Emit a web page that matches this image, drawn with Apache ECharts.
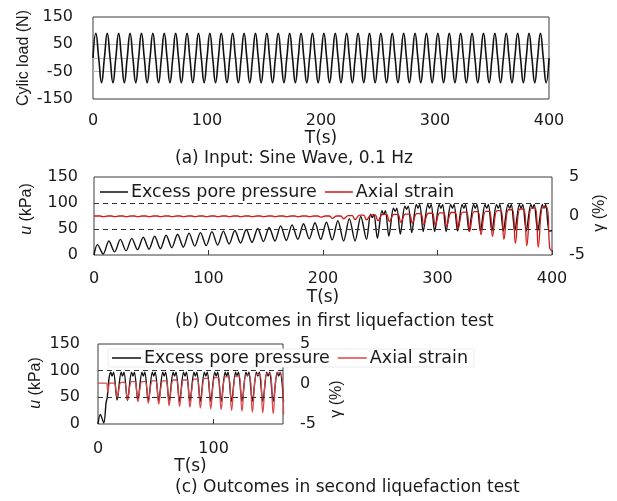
<!DOCTYPE html>
<html><head><meta charset="utf-8">
<script src="https://cdn.jsdelivr.net/npm/echarts@6.0.0/dist/echarts.min.js"></script>
<style>html,body{margin:0;padding:0;background:#fff}#c{width:617px;height:501px}</style>
</head><body><div id="c"></div><script>
// ---------- Panel (a): input sine load, 0.1 Hz ----------
const loadPeriod = 10; // s
const loadPeaks = [90,90,90,90,90,90,90,90,90,90, 90,90,90,90,90,90,90,90,90,90,
                   90,90,90,90,90,90,90,90,90,90, 90,90,90,90,90,90,90,90,90,90];
const loadTroughs = [-90,-90,-90,-90,-90,-90,-90,-90,-90,-90, -90,-90,-90,-90,-90,-90,-90,-90,-90,-90,
                     -90,-90,-90,-90,-90,-90,-90,-90,-90,-90, -90,-90,-90,-90,-90,-90,-90,-90,-90,-90];
const loadTicks = [-150, -50, 50, 150];
const loadGridLines = [-50, 0, 50];

// ---------- Panel (b): first liquefaction test (per 10 s cycle) ----------
const bPeriod = 10;
const bPorePeak   = [20,27,30,32,34,36,38,40,42,43, 45,46,47,49,51,53,56,58,60,62,
                     63,66,70,74,78,85,90,94,97,97, 97,97,97,97,97,97,97,97,97,97];
const bPoreNotch  = [null,null,null,null,null,null,null,null,null,null,
                     null,null,null,null,null,null,null,null,null,null,
                     null,null,null,null,72,78,84,88,90,90, 90,90,90,90,90,90,90,90,90,90];
const bPoreTrough = [2,6,8,10,11,12,14,15,17,18, 19,21,23,24,26,27,28,30,31,30,
                     29,27,27,30,32,36,40,43,45,45, 45,46,46,46,46,46,46,46,46,46];
const bStrainTop    = [0,0,0,0,0,0,0,0,0,0, 0,0,0,0,0,0,0,0,0,0,
                       0,0,0.05,0.1,0.15,0.2,0.2,0.25,0.3,0.35, 0.4,0.45,0.5,0.55,0.6,0.7,0.8,0.9,1.0,1.1];
const bStrainBottom = [-0.1,-0.1,-0.1,-0.1,-0.1,-0.1,-0.1,-0.1,-0.1,-0.1, -0.1,-0.1,-0.1,-0.1,-0.1,-0.1,-0.1,-0.1,-0.1,-0.15,
                       -0.3,-0.35,-0.45,-0.5,-0.6,-0.7,-0.8,-0.9,-1.1,-1.2, -1.3,-1.6,-2.0,-2.4,-2.6,-3.0,-3.5,-3.8,-4.0,-4.1];
const bEnd = {t: 400, u: 47, g: -4.5};

// ---------- Panel (c): second liquefaction test ----------
const cPreT = [0, 2, 5, 7, 8, 9.5];
const cPreU = [0, 18, 2, 40, 50, 85];
const cPreStrainT = [0, 7, 8.5, 10];
const cPreStrain  = [0.1, 0.1, -1.0, 0.1];
const cFirstCycle = 10, cPeriod = 9;
const cPorePeak   = [97,97,97,97,97,97,97,97,97,97,97,97,97,97,97,97,97];
const cPoreNotch  = [90,90,90,90,90,90,90,90,90,90,90,90,90,90,90,90,90];
const cPoreTrough = [45,44,44,43,43,43,42,42,42,42,42,42,42,42,42,42,42];
const cStrainTop    = [0.1,0.2,0.3,0.3,0.4,0.4,0.5,0.5,0.6,0.7,0.8,0.9,1.0,1.1,1.2,1.3,1.4];
const cStrainBottom = [-1.6,-2.0,-2.2,-2.4,-2.5,-2.7,-2.8,-2.9,-3.0,-3.1,-3.2,-3.3,-3.4,-3.5,-3.6,-3.7,-3.8];

const uTicks = [0, 50, 100, 150];
const uDashed = [50, 100];
const gTicks = [-5, 0, 5];

// ---------- build series data ----------
const loadData = [];
loadPeaks.forEach((p, k) => {
  const t0 = k * loadPeriod;
  loadData.push([t0, 0], [t0 + 2.5, p], [t0 + 5, 0], [t0 + 7.5, loadTroughs[k]]);
});
loadData.push([400, 0]);

const bPore = [[0, 0]], bStrain = [[0, 0]];
bPorePeak.forEach((p, k) => {
  const t0 = k * bPeriod;
  if (bPoreNotch[k] === null) {
    bPore.push([t0 + 3, p], [t0 + 8, bPoreTrough[k]]);
  } else {
    bPore.push([t0 + 1.5, p], [t0 + 3, bPoreNotch[k]], [t0 + 4.5, p], [t0 + 7.5, bPoreTrough[k]]);
  }
  bStrain.push([t0 + 2, bStrainTop[k]], [t0 + 5.5, bStrainTop[k]], [t0 + 8, bStrainBottom[k]]);
});
bPore.push([bEnd.t, bEnd.u]);
bStrain.push([bEnd.t, bEnd.g]);

const cPore = cPreT.map((t, i) => [t, cPreU[i]]);
const cStrain = cPreStrainT.map((t, i) => [t, cPreStrain[i]]);
cPorePeak.forEach((p, k) => {
  const t0 = cFirstCycle + k * cPeriod;
  cPore.push([t0 + 1, p], [t0 + 2.2, cPoreNotch[k]], [t0 + 3.5, p], [t0 + 6.5, cPoreTrough[k]]);
  cStrain.push([t0 + 1, cStrainTop[k]], [t0 + 4, cStrainTop[k]], [t0 + 6.5, cStrainBottom[k]]);
});

// ---------- chart ----------
const TXT = '#1a1a1a';
const FONT_H = 'DejaVu Sans';
const FONT_V = 'Liberation Sans';
const RED_B = '#d01818', RED_C = '#e04448';
const BORDER = '#3a3a3a';

const axisLbl = (extra) => Object.assign({color: TXT, fontFamily: FONT_H, fontSize: 16}, extra || {});
const xName = {color: TXT, fontFamily: FONT_H, fontSize: 17};
const dashedLines = {silent: true, symbol: 'none', label: {show: false}, animation: false,
  lineStyle: {color: '#333', type: [5, 4], width: 1}, data: uDashed.map(v => ({yAxis: v}))};
const xBase = {type: 'value', axisLine: {show: false}, splitLine: {show: false}};
const yBase = {type: 'value', axisLine: {show: false}, axisTick: {show: false}, splitLine: {show: false}};

const chart = echarts.init(document.getElementById('c'), null, {renderer: 'canvas'});
chart.setOption({
  backgroundColor: '#fff',
  animation: false,
  grid: [
    {left: 93, top: 17, width: 456, height: 82, show: true, borderColor: BORDER, borderWidth: 1},
    {left: 94, top: 177, width: 458, height: 78, show: true, borderColor: BORDER, borderWidth: 1},
    {left: 98, top: 344, width: 185, height: 80, show: true, borderColor: BORDER, borderWidth: 1}
  ],
  xAxis: [
    Object.assign({gridIndex: 0, min: 0, max: 400, interval: 100, axisTick: {show: false},
     axisLabel: axisLbl({margin: 14}), name: 'T(s)', nameLocation: 'middle', nameGap: 30, nameTextStyle: xName}, xBase),
    Object.assign({gridIndex: 1, min: 0, max: 400, interval: 100,
     axisTick: {show: true, inside: true, length: 5, lineStyle: {color: BORDER}},
     axisLabel: axisLbl({margin: 16}), name: 'T(s)', nameLocation: 'middle', nameGap: 34, nameTextStyle: xName}, xBase),
    Object.assign({gridIndex: 2, min: 0, max: 160, interval: 100,
     axisTick: {show: true, inside: true, length: 5, lineStyle: {color: BORDER}},
     axisLabel: axisLbl({margin: 17, showMaxLabel: false}), name: 'T(s)', nameLocation: 'middle', nameGap: 31, nameTextStyle: xName}, xBase)
  ],
  yAxis: [
    Object.assign({gridIndex: 0, min: loadTicks[0], max: loadTicks[3], interval: 100, axisLabel: axisLbl({margin: 20})}, yBase),
    Object.assign({gridIndex: 1, min: uTicks[0], max: uTicks[3], interval: 50, axisLabel: axisLbl({margin: 16})}, yBase),
    Object.assign({gridIndex: 1, position: 'right', min: gTicks[0], max: gTicks[2], interval: 5, axisLabel: axisLbl({margin: 17})}, yBase),
    Object.assign({gridIndex: 2, min: uTicks[0], max: uTicks[3], interval: 50, axisLabel: axisLbl({margin: 18})}, yBase),
    Object.assign({gridIndex: 2, position: 'right', min: gTicks[0], max: gTicks[2], interval: 5, axisLabel: axisLbl({margin: 17})}, yBase)
  ],
  legend: [
    {left: 100, top: 183, icon: 'rect', itemWidth: 28, itemHeight: 1.5, itemGap: 8, padding: 0,
     textStyle: {color: TXT, fontFamily: FONT_H, fontSize: 17.5, padding: [0, 0, 0, -2]},
     data: [{name: 'Excess pore pressure'}, {name: 'Axial strain'}]},
    {left: 108, top: 349, icon: 'rect', itemWidth: 29, itemHeight: 1.5, itemGap: 8, padding: [0, 6, 0, 4],
     backgroundColor: '#ffffff', borderColor: '#ececec', borderWidth: 1,
     textStyle: {color: TXT, fontFamily: FONT_H, fontSize: 17.5, padding: [0, 0, 0, -2]},
     data: [{name: 'Excess pore pressure'}, {name: 'Axial strain', itemStyle: {color: RED_C}}]}
  ],
  series: [
    {type: 'line', name: 'Cyclic load', xAxisIndex: 0, yAxisIndex: 0, data: loadData, smooth: 0.5,
     symbol: 'none', lineStyle: {color: '#111', width: 1.6}, silent: true, z: 3,
     markLine: {silent: true, symbol: 'none', label: {show: false}, z: 1,
       lineStyle: {color: '#b8b8b8', type: 'solid', width: 1}, data: loadGridLines.map(v => ({yAxis: v}))}},
    {type: 'line', name: 'Excess pore pressure', xAxisIndex: 1, yAxisIndex: 1, data: bPore, smooth: 0.3,
     symbol: 'none', lineStyle: {color: '#111', width: 1.4}, itemStyle: {color: '#111'}, markLine: dashedLines},
    {type: 'line', name: 'Axial strain', xAxisIndex: 1, yAxisIndex: 2, data: bStrain, smooth: 0.4,
     symbol: 'none', lineStyle: {color: RED_B, width: 1.3}, itemStyle: {color: RED_B}},
    {type: 'line', name: 'Excess pore pressure', xAxisIndex: 2, yAxisIndex: 3, data: cPore, smooth: 0.3,
     symbol: 'none', lineStyle: {color: '#111', width: 1.4}, itemStyle: {color: '#111'}, markLine: dashedLines},
    {type: 'line', name: 'Axial strain', xAxisIndex: 2, yAxisIndex: 4, data: cStrain, smooth: 0.4,
     symbol: 'none', lineStyle: {color: RED_C, width: 1.3}, itemStyle: {color: RED_C}}
  ],
  graphic: [
    {type: 'text', x: 24, y: 58, rotation: Math.PI / 2,
     style: {text: 'Cylic load (N)', fill: TXT, font: '16px "Liberation Sans"', align: 'center', verticalAlign: 'middle'}},
    {type: 'text', x: 27, y: 209, rotation: Math.PI / 2,
     style: {text: '{i|u} (kPa)', fill: TXT, font: '16px "Liberation Sans"', align: 'center', verticalAlign: 'middle',
       rich: {i: {fontStyle: 'italic', fontFamily: FONT_V, fontSize: 16, fill: TXT}}}},
    {type: 'text', x: 600, y: 213, rotation: Math.PI / 2,
     style: {text: 'γ (%)', fill: TXT, font: '16px "Liberation Sans"', align: 'center', verticalAlign: 'middle'}},
    {type: 'text', x: 36, y: 383, rotation: Math.PI / 2,
     style: {text: '{i|u} (kPa)', fill: TXT, font: '16px "Liberation Sans"', align: 'center', verticalAlign: 'middle',
       rich: {i: {fontStyle: 'italic', fontFamily: FONT_V, fontSize: 16, fill: TXT}}}},
    {type: 'text', x: 337, y: 399, rotation: Math.PI / 2,
     style: {text: 'γ (%)', fill: TXT, font: '16px "Liberation Sans"', align: 'center', verticalAlign: 'middle'}},
    {type: 'text', x: 175, y: 159,
     style: {text: '(a) Input: Sine Wave, 0.1 Hz', fill: TXT, font: '17px "DejaVu Sans"', align: 'left', verticalAlign: 'middle'}},
    {type: 'text', x: 175, y: 322,
     style: {text: '(b) Outcomes in first liquefaction test', fill: TXT, font: '17px "DejaVu Sans"', align: 'left', verticalAlign: 'middle'}},
    {type: 'text', x: 175, y: 488,
     style: {text: '(c) Outcomes in second liquefaction test', fill: TXT, font: '17px "DejaVu Sans"', align: 'left', verticalAlign: 'middle'}}
  ]
});
</script></body></html>
